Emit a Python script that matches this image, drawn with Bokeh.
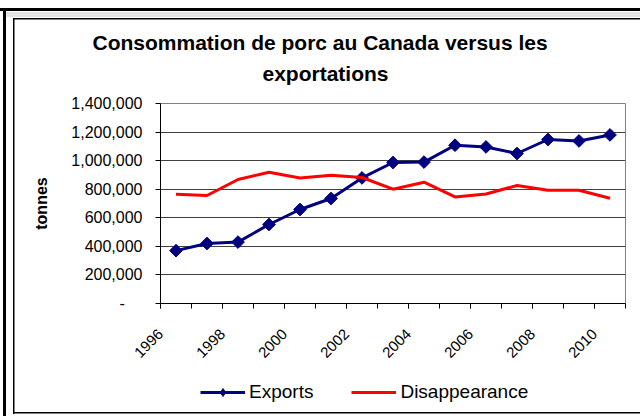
import numpy as np
from bokeh.plotting import figure
from bokeh.layouts import column
from bokeh.models import (FixedTicker, NumeralTickFormatter, Range1d, Title,
                          Legend, LegendItem)
from bokeh.embed import file_html
from bokeh.resources import INLINE

# ---- data ----
years = [1996, 1997, 1998, 1999, 2000, 2001, 2002, 2003, 2004, 2005,
         2006, 2007, 2008, 2009, 2010]
exports = [370000, 420000, 430000, 553000, 658000, 735000, 879000, 987000,
           990000, 1108000, 1096000, 1050000, 1148000, 1138000, 1180000]
disappearance = [765000, 756000, 868000, 919000, 879000, 898000, 882000,
                 800000, 849000, 746000, 767000, 826000, 793000, 793000, 737000]
y_ticks = [0, 200000, 400000, 600000, 800000, 1000000, 1200000, 1400000]
x_label_years = [1996, 1998, 2000, 2002, 2004, 2006, 2008, 2010]
title_lines = ["Consommation de porc au Canada versus les", "exportations"]
y_axis_title = "tonnes"
series_names = ["Exports", "Disappearance"]

FONT = "Liberation Sans"
EXP_COLOR = "#000080"
DIS_COLOR = "#FF0000"

# chart-area frame drawn as CSS background rectangles (x, y, w, h, colour)
frame_rects = [(0, 8, 640, 3, "#000"), (3, 8, 3, 408, "#000"),
               (6, 12, 634, 5, "#e4e4e4"),
               (13, 18, 627, 1.5, "#000"), (13, 18, 1.5, 396, "#000"),
               (13, 412, 627, 1.5, "#000")]

MAIN_H = 370
LEG_H = 416 - MAIN_H

p = figure(width=640, height=MAIN_H, output_backend="svg", toolbar_location=None,
           x_range=Range1d(years[0] - 0.5, years[-1] + 0.5),
           y_range=Range1d(y_ticks[0], y_ticks[-1]),
           min_border_left=160, min_border_right=15,
           min_border_top=103, min_border_bottom=MAIN_H - 303)
p.title = None
p.background_fill_color = "white"
p.border_fill_color = None
p.outline_line_color = "#808080"
p.outline_line_width = 1

# x axis: ticks between categories, labels every second year
boundaries = [y - 0.5 for y in years] + [years[-1] + 0.5]
label_pos = [y - 0.5 for y in x_label_years]
p.xaxis.ticker = FixedTicker(ticks=label_pos, minor_ticks=boundaries)
p.xaxis.major_label_overrides = {pos: str(y) for pos, y in zip(label_pos, x_label_years)}
p.xaxis.major_tick_out = 5
p.xaxis.major_tick_in = 0
p.xaxis.minor_tick_out = 5
p.xaxis.minor_tick_in = 0
p.xaxis.major_tick_line_color = "black"
p.xaxis.minor_tick_line_color = "black"
p.xaxis.axis_line_color = "black"
p.xaxis.major_label_orientation = np.pi / 4
p.xaxis.major_label_standoff = 23
p.xaxis.major_label_text_font = FONT
p.xaxis.major_label_text_font_size = "15px"
p.xaxis.major_label_text_color = "black"

# y axis
p.yaxis.ticker = FixedTicker(ticks=y_ticks)
p.yaxis.formatter = NumeralTickFormatter(format="0,0")
p.yaxis.major_label_overrides = {0: "-\u00a0\u00a0\u00a0\u00a0"}
p.yaxis.major_tick_out = 5
p.yaxis.major_tick_in = 0
p.yaxis.minor_tick_line_color = None
p.yaxis.axis_line_color = "black"
p.yaxis.major_label_standoff = 13
p.yaxis.major_label_text_font = FONT
p.yaxis.major_label_text_font_size = "16px"
p.yaxis.major_label_text_color = "black"
p.yaxis.axis_label = y_axis_title
p.yaxis.axis_label_text_font = FONT
p.yaxis.axis_label_text_font_size = "16px"
p.yaxis.axis_label_text_font_style = "bold"
p.yaxis.axis_label_text_color = "black"
p.yaxis.axis_label_standoff = 18

p.xgrid.visible = False
p.ygrid.ticker = FixedTicker(ticks=y_ticks)
p.ygrid.grid_line_color = "#404040"
p.ygrid.grid_line_width = 1

# series
p.line(years, exports, line_color=EXP_COLOR, line_width=3)
p.scatter(years, exports, marker="square", angle=np.pi / 4, size=9,
          fill_color=EXP_COLOR, line_color=EXP_COLOR)
p.line(years, disappearance, line_color=DIS_COLOR, line_width=3)

# two-line title, centred on the chart area (a thin spacer keeps it off the frame)
spacer = Title(text=" ", text_font_size="1px", standoff=13)
t2 = Title(text=title_lines[1], align="left", offset=102, standoff=6,
           text_font=FONT, text_font_style="bold", text_font_size="21px",
           text_color="black")
t1 = Title(text=title_lines[0], align="left", offset=-68, standoff=6,
           text_font=FONT, text_font_style="bold", text_font_size="21px",
           text_color="black")
p.add_layout(spacer, "above")
p.add_layout(t2, "above")
p.add_layout(t1, "above")

# legend strip below the chart; its renderers hold the series but lie
# outside this strip's ranges, so only the legend is visible here
lp = figure(width=640, height=LEG_H, output_backend="svg", toolbar_location=None,
            x_range=Range1d(0, 1), y_range=Range1d(0, 1),
            x_axis_type=None, y_axis_type=None,
            min_border_left=0, min_border_right=0,
            min_border_top=0, min_border_bottom=0)
lp.title = None
lp.grid.visible = False
lp.outline_line_color = None
lp.background_fill_color = None
lp.border_fill_color = None
g1 = lp.line(years, exports, line_color=EXP_COLOR, line_width=3)
g2 = lp.scatter(years, exports, marker="diamond", size=14,
                fill_color=EXP_COLOR, line_color=EXP_COLOR)
g3 = lp.line(years, disappearance, line_color=DIS_COLOR, line_width=3)
legend = Legend(items=[LegendItem(label=series_names[0], renderers=[g1, g2]),
                       LegendItem(label=series_names[1], renderers=[g3])],
                orientation="horizontal", location=(40, 13),
                border_line_color=None, background_fill_alpha=0,
                padding=0, margin=0, spacing=38, glyph_width=45,
                glyph_height=20, label_height=20, label_standoff=4,
                label_text_font=FONT, label_text_font_size="19px",
                label_text_color="black")
lp.add_layout(legend)

layout = column(p, lp, spacing=0, styles={
    "background-color": "white",
    "background-image": ", ".join(f"linear-gradient({c}, {c})" for *_, c in frame_rects),
    "background-position": ", ".join(f"{x}px {y}px" for x, y, w, h, c in frame_rects),
    "background-size": ", ".join(f"{w}px {h}px" for x, y, w, h, c in frame_rects),
    "background-repeat": "no-repeat",
})

open("out.html", "w").write(file_html(layout, INLINE))
